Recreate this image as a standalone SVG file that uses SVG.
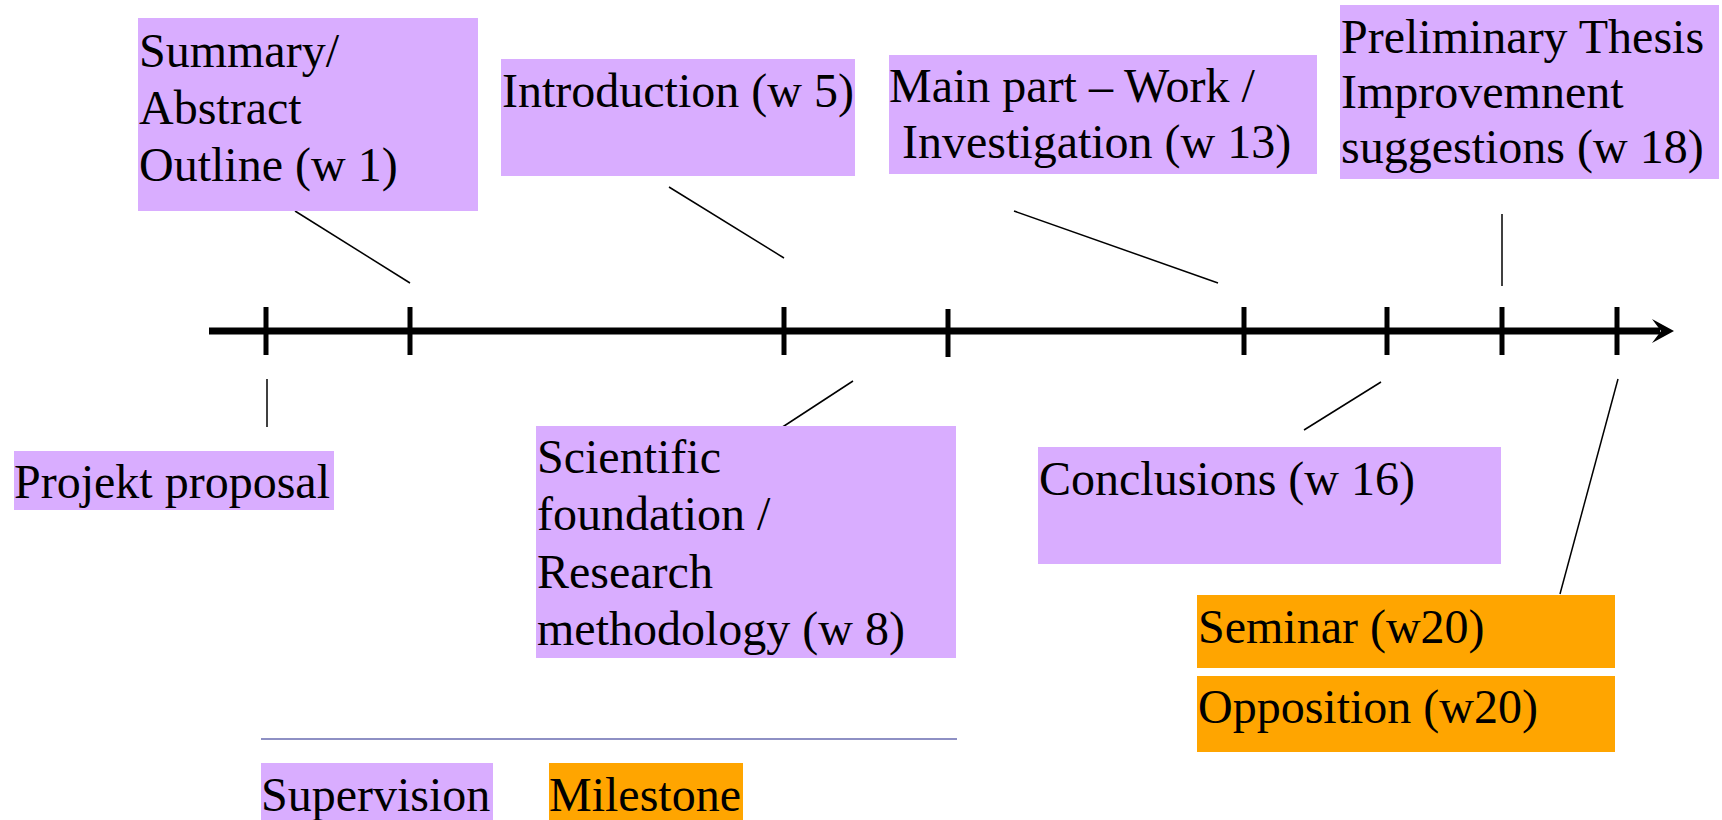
<svg xmlns="http://www.w3.org/2000/svg" width="1722" height="820" viewBox="0 0 1722 820">
<style>
.sup{fill:#d9adff}
.mil{fill:#ffa500}
text{font-family:'Liberation Serif','Times New Roman',serif;font-size:48px;fill:#000}
.tick{stroke:#000;stroke-width:5}
.con{stroke:#000;stroke-width:1.5;fill:none}
</style>
<rect width="1722" height="820" fill="#fff"/>
<g id="timeline">
<line x1="209" y1="331" x2="1660" y2="331" stroke="#000" stroke-width="7"/>
<path d="M1652,319 L1674,331 L1652,343 L1661,331 Z" fill="#000"/>
<line class="tick" x1="266" y1="307" x2="266" y2="355"/>
<line class="tick" x1="410" y1="307" x2="410" y2="355"/>
<line class="tick" x1="784" y1="307" x2="784" y2="355"/>
<line class="tick" x1="948" y1="309" x2="948" y2="357"/>
<line class="tick" x1="1244" y1="307" x2="1244" y2="355"/>
<line class="tick" x1="1387" y1="307" x2="1387" y2="355"/>
<line class="tick" x1="1502" y1="307" x2="1502" y2="355"/>
<line class="tick" x1="1617" y1="307" x2="1617" y2="355"/>
</g>
<g id="connectors">
<line class="con" x1="295" y1="211" x2="410" y2="283"/>
<line class="con" x1="669" y1="187" x2="784" y2="258"/>
<line class="con" x1="1014" y1="211" x2="1218" y2="283"/>
<line class="con" x1="1502" y1="214" x2="1502" y2="286"/>
<line class="con" x1="267" y1="379" x2="267" y2="427"/>
<line class="con" x1="853" y1="381" x2="781" y2="428"/>
<line class="con" x1="1381" y1="382" x2="1304" y2="430"/>
<line class="con" x1="1618" y1="379" x2="1560" y2="594"/>
</g>
<g id="summary">
<rect class="sup" x="138" y="18" width="340" height="193"/>
<text x="139" y="67">Summary/</text>
<text x="139" y="124">Abstract</text>
<text x="139" y="181">Outline (w 1)</text>
</g>
<g id="introduction">
<rect class="sup" x="501" y="59" width="354" height="117"/>
<text x="502" y="107">Introduction (w 5)</text>
</g>
<g id="mainpart">
<rect class="sup" x="889" y="55" width="428" height="119"/>
<text x="889" y="102">Main part – Work /</text>
<text x="902" y="158">Investigation (w 13)</text>
</g>
<g id="preliminary">
<rect class="sup" x="1340" y="5" width="379" height="174"/>
<text x="1341" y="53">Preliminary Thesis</text>
<text x="1341" y="108">Improvemnent</text>
<text x="1341" y="163">suggestions (w 18)</text>
</g>
<g id="projekt">
<rect class="sup" x="14" y="451" width="320" height="59"/>
<text x="14" y="498">Projekt proposal</text>
</g>
<g id="scientific">
<rect class="sup" x="536" y="426" width="420" height="232"/>
<text x="537" y="473">Scientific</text>
<text x="537" y="530">foundation /</text>
<text x="537" y="588">Research</text>
<text x="537" y="645">methodology (w 8)</text>
</g>
<g id="conclusions">
<rect class="sup" x="1038" y="447" width="463" height="117"/>
<text x="1039" y="495">Conclusions (w 16)</text>
</g>
<g id="seminar">
<rect class="mil" x="1197" y="595" width="418" height="73"/>
<text x="1198" y="643">Seminar (w20)</text>
</g>
<g id="opposition">
<rect class="mil" x="1197" y="676" width="418" height="76"/>
<text x="1198" y="723">Opposition (w20)</text>
</g>
<g id="legend">
<line x1="261" y1="739" x2="957" y2="739" stroke="#8e90c4" stroke-width="2"/>
<rect class="sup" x="261" y="763" width="232" height="57"/>
<text x="261" y="811">Supervision</text>
<rect class="mil" x="549" y="763" width="194" height="57"/>
<text x="549" y="811">Milestone</text>
</g>
</svg>
